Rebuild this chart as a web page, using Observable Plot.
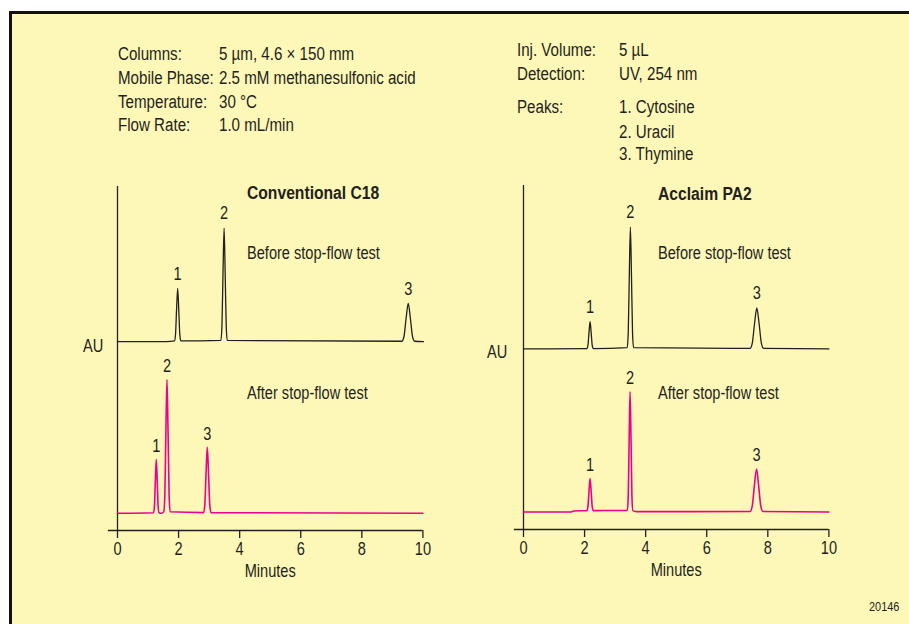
<!DOCTYPE html>
<html>
<head>
<meta charset="utf-8">
<script src="https://cdn.jsdelivr.net/npm/d3@7"></script>
<script src="https://cdn.jsdelivr.net/npm/@observablehq/plot@0.6"></script>
<style>
  html, body { margin: 0; padding: 0; background: #ffffff; }
  #page { position: relative; width: 909px; height: 624px; overflow: hidden; background: #ffffff;
          font-family: "Liberation Sans", Arial, sans-serif; color: #231f20; }
  #box { position: absolute; left: 8.5px; top: 11px; width: 960px; height: 700px; background: #fef8b8;
         border-left: 3px solid #111; border-top: 3px solid #111; box-sizing: border-box; }
  .t { position: absolute; font-size: 18px; line-height: 20px; white-space: nowrap;
       transform: scaleX(0.81); transform-origin: 0 50%; }
  .h { transform: scaleX(0.84); }
  .b { font-weight: bold; transform: scaleX(0.87); }
  .plot { position: absolute; }
  .small { font-size: 13.5px; }
</style>
</head>
<body>
<div id="page">
  <div id="box"></div>
</div>
<script>
// ---------------- data ----------------
const xTicks = [0, 2, 4, 6, 8, 10];
const peakLabels = ["1", "2", "3"];

const infoLeftLabels = ["Columns:", "Mobile Phase:", "Temperature:", "Flow Rate:"];
const infoLeftValues = ["5 µm, 4.6 × 150 mm", "2.5 mM methanesulfonic acid", "30 °C", "1.0 mL/min"];
const infoRightLabels = ["Inj. Volume:", "Detection:", "Peaks:", "", ""];
const infoRightValues = ["5 µL", "UV, 254 nm", "1. Cytosine", "2. Uracil", "3. Thymine"];

const panelTitles = ["Conventional C18", "Acclaim PA2"];
const traceNames = ["Before stop-flow test", "After stop-flow test"];

// Conventional C18 – before stop-flow (minutes, signal)
const c18Before = [
  [0,0],[1.6,0],[1.865,0.2],[1.90,2.1],[1.935,9.5],[1.97,15.5],[2.005,9.5],[2.04,2.1],[2.075,0.2],
  [3.385,0.36],[3.42,4.5],[3.455,20.1],[3.49,33.0],[3.525,20.1],[3.56,4.5],[3.595,0.36],
  [9.31,0.12],[9.38,1.5],[9.45,6.8],[9.52,11.1],[9.59,6.8],[9.66,1.5],[9.73,0.12],[10.02,0]
];
// Conventional C18 – after stop-flow
const c18After = [
  [0,0],[1.18,0.17],[1.21,2.1],[1.24,9.6],[1.27,15.7],[1.30,9.6],[1.33,2.1],[1.36,0.17],[1.44,0],
  [1.515,0.43],[1.55,5.3],[1.585,23.7],[1.62,38.9],[1.655,23.7],[1.69,5.3],[1.725,0.43],
  [2.82,0.21],[2.86,2.6],[2.90,11.7],[2.94,19.2],[2.98,11.7],[3.02,2.6],[3.06,0.21],[10.0,0]
];
// Acclaim PA2 – before stop-flow
const pa2Before = [
  [0,0],[2.075,0.09],[2.11,1.07],[2.145,4.8],[2.18,7.9],[2.215,4.8],[2.25,1.07],[2.285,0.09],
  [3.395,0.39],[3.43,4.8],[3.465,21.6],[3.50,35.4],[3.535,21.6],[3.57,4.8],[3.605,0.39],
  [7.415,0.13],[7.49,1.6],[7.565,7.3],[7.64,11.9],[7.715,7.3],[7.79,1.6],[7.865,0.13],[10.0,0]
];
// Acclaim PA2 – after stop-flow
const pa2After = [
  [0,0],[1.55,0],[1.65,0.3],[2.075,0.4],[2.11,1.57],[2.145,6.0],[2.18,9.7],[2.215,6.0],[2.25,1.57],[2.285,0.4],
  [3.40,0.45],[3.43,4.7],[3.46,21.4],[3.49,35.0],[3.52,21.4],[3.55,4.7],[3.58,0.39],[3.7,0.1],
  [7.42,0.14],[7.49,1.7],[7.56,7.6],[7.63,12.5],[7.70,7.6],[7.77,1.7],[7.84,0.14],[10.0,0]
];

// peak apex times and heights (for labels)
const c18BeforePeakTimes = [1.97, 3.49, 9.52];
const c18BeforePeakHeights = [15.5, 33.0, 11.1];
const c18AfterPeakTimes = [1.27, 1.62, 2.94];
const c18AfterPeakHeights = [15.7, 38.9, 19.2];
const pa2BeforePeakTimes = [2.18, 3.50, 7.64];
const pa2BeforePeakHeights = [7.9, 35.4, 11.9];
const pa2AfterPeakTimes = [2.18, 3.49, 7.63];
const pa2AfterPeakHeights = [9.7, 35.0, 12.5];

// vertical stacking offsets of the traces (AU units)
const c18Offsets = [54.9, 5.0];
const pa2Offsets = [52.5, 5.1];

// ---------------- drawing ----------------
const FONT = '"Liberation Sans", Arial, sans-serif';
const INK = "#231f20";
const PINK = "#ec008c";
const NARROW = 0.81;
const page = document.getElementById("page");

function addText(str, left, top, cls) {
  const d = document.createElement("div");
  d.className = "t " + (cls || "");
  d.style.left = left + "px";
  d.style.top = top + "px";
  d.textContent = str;
  page.appendChild(d);
  return d;
}

// header info
const leftRowsY = [43.5, 67.5, 91.5, 115];
infoLeftLabels.forEach((s, i) => addText(s, 118, leftRowsY[i], "h"));
infoLeftValues.forEach((s, i) => addText(s, 219, leftRowsY[i], "h"));
const rightRowsY = [40, 63.5, 96.5, 121.5, 143.5];
infoRightLabels.forEach((s, i) => { if (s) addText(s, 517, rightRowsY[i], "h"); });
infoRightValues.forEach((s, i) => addText(s, 619, rightRowsY[i], "h"));

function labelData(times, heights, offset) {
  return times.map((t, i) => ({t, y: heights[i] + offset, label: peakLabels[i]}));
}

function panel(before, after, bTimes, bHeights, aTimes, aHeights, offsets) {
  return Plot.plot({
    width: 420,
    height: 420,
    marginLeft: 100,
    marginRight: 14.6,
    marginTop: 10,
    marginBottom: 66,
    style: {background: "transparent", fontFamily: FONT, fontSize: "18px", color: INK, overflow: "visible"},
    x: {domain: [0, 10]},
    y: {domain: [0, 100], axis: null},
    marks: [
      Plot.ruleX([0], {y1: 0, y2: 100, stroke: INK, strokeWidth: 1.3}),
      Plot.ruleY([0], {x1: -0.3, x2: 10, stroke: INK, strokeWidth: 1.3}),
      Plot.axisX({ticks: xTicks, tickSize: 8, tickPadding: 4, tickFormat: d => String(d), fontSize: 18, label: null, stroke: INK, strokeWidth: 1.3}),
      Plot.text(["Minutes"], {frameAnchor: "bottom", dy: 46.5, fontSize: 18, fill: INK}),
      Plot.line(before, {x: d => d[0], y: d => d[1] + offsets[0], curve: "monotone-x", stroke: INK, strokeWidth: 1.3}),
      Plot.line(after, {x: d => d[0], y: d => d[1] + offsets[1], curve: "monotone-x", stroke: PINK, strokeWidth: 1.6}),
      Plot.text(labelData(bTimes, bHeights, offsets[0]), {x: "t", y: "y", text: "label", dy: -14.5, fontSize: 18, fill: INK}),
      Plot.text(labelData(aTimes, aHeights, offsets[1]), {x: "t", y: "y", text: "label", dy: -13.5, fontSize: 18, fill: INK})
    ]
  });
}

// condense svg text horizontally around each text's own centre
function condense(svg) {
  svg.querySelectorAll("text").forEach(t => {
    const b = t.getBBox();
    const cx = b.x + b.width / 2;
    const prev = t.getAttribute("transform") || "";
    t.setAttribute("transform", `${prev} translate(${cx},0) scale(${NARROW},1) translate(${-cx},0)`.trim());
  });
}

const p1 = panel(c18Before, c18After, c18BeforePeakTimes, c18BeforePeakHeights, c18AfterPeakTimes, c18AfterPeakHeights, c18Offsets);
p1.classList.add("plot");
p1.style.left = "17.3px";
p1.style.top = "176px";
page.appendChild(p1);
condense(p1);

const p2 = panel(pa2Before, pa2After, pa2BeforePeakTimes, pa2BeforePeakHeights, pa2AfterPeakTimes, pa2AfterPeakHeights, pa2Offsets);
p2.classList.add("plot");
p2.style.left = "422.7px";
p2.style.top = "175.3px";
page.appendChild(p2);
condense(p2);

// panel titles and trace names
addText(panelTitles[0], 246.5, 183, "b");
addText(panelTitles[1], 658, 184, "b");
addText(traceNames[0], 246.5, 243);
addText(traceNames[1], 246.5, 383);
addText(traceNames[0], 658, 243);
addText(traceNames[1], 658, 383);
addText("AU", 83, 336);
addText("AU", 487, 342);
addText("20146", 869, 597, "small");
</script>
</body>
</html>
